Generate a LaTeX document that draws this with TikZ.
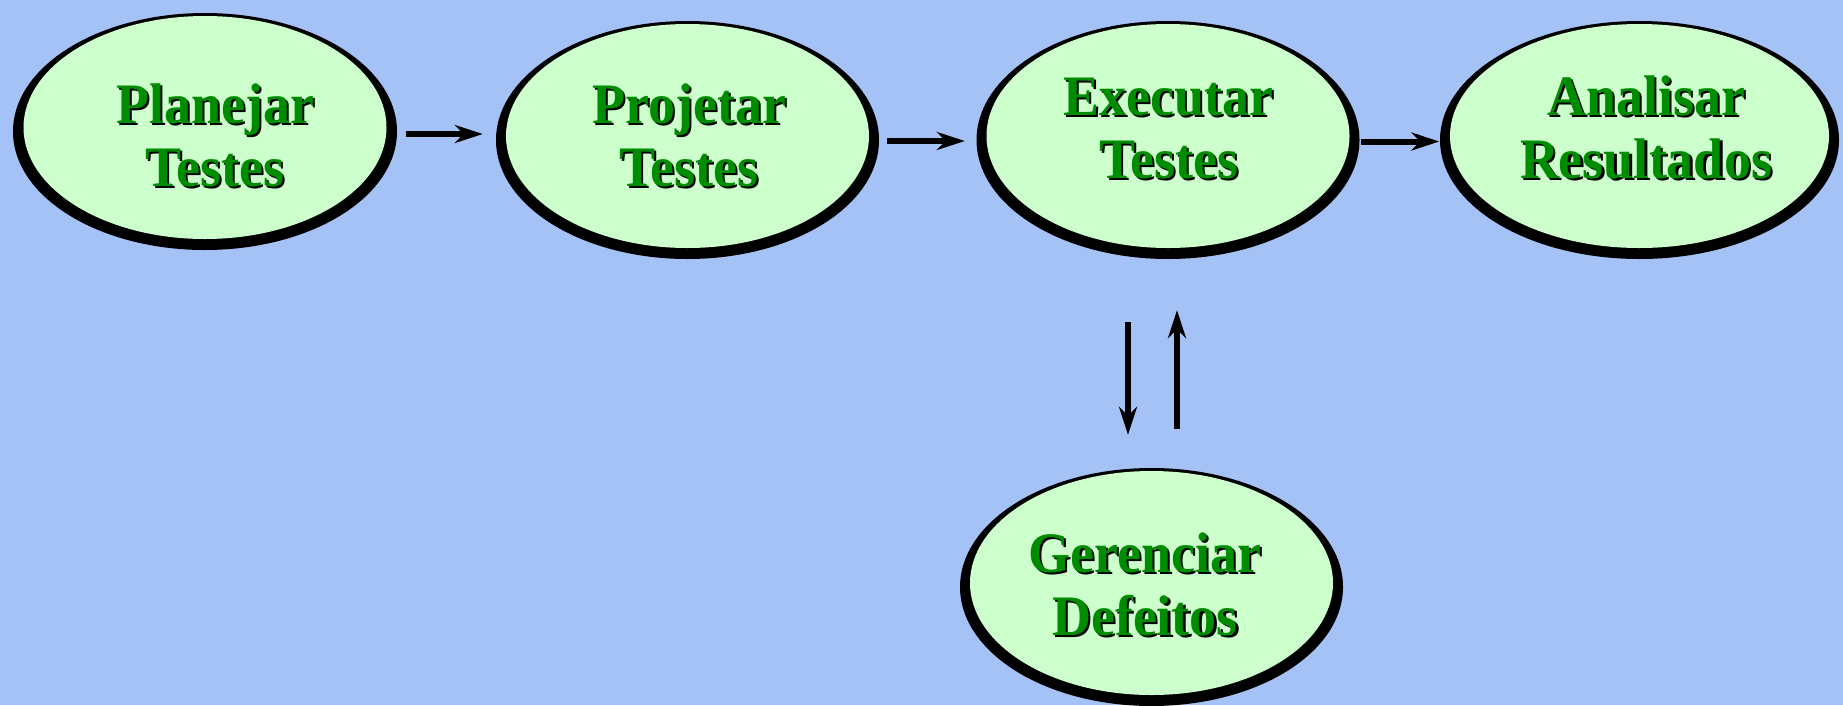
\documentclass[tikz,border=0pt]{standalone}
\usepackage{fontspec}
\usepackage{graphicx}
\setmainfont{Liberation Serif}
\usetikzlibrary{arrows.meta,shapes.geometric}
\definecolor{bgblue}{RGB}{164,194,246}
\definecolor{palegreen}{RGB}{204,255,204}
\definecolor{txtgreen}{RGB}{0,140,0}
\newcommand{\shw}[1]{\scalebox{1}[1.06]{\rlap{\kern2.2pt\raisebox{-2.2pt}{\color{black}#1}}#1}}
\newcommand{\twolines}[2]{\begin{tabular}[t]{@{}c@{}}\shw{#1}\\\shw{#2}\end{tabular}}
\tikzset{
  stage/.style={shape=ellipse, fill=palegreen, inner sep=0pt, minimum width=363pt, minimum height=224pt},
  shadowfill/.style={fill=black},
  lbl/.style={anchor=base, inner sep=0pt, text=txtgreen, font=\fontsize{54}{63}\selectfont\bfseries},
  arr/.style={line width=6pt, -{Stealth[length=28pt,width=18pt,inset=9pt]}}
}
\begin{document}
\begin{tikzpicture}[x=1pt,y=-1pt]
\fill[bgblue] (0,0) rectangle (1843,705);
\useasboundingbox (0,0) rectangle (1843,705);
% shadow ellipses
\fill[shadowfill] (205,131.5) ellipse [x radius=192pt, y radius=118.5pt];
\fill[shadowfill] (687.5,140) ellipse [x radius=191.5pt, y radius=119pt];
\fill[shadowfill] (1168,140) ellipse [x radius=191.5pt, y radius=119pt];
\fill[shadowfill] (1639.5,140) ellipse [x radius=199.5pt, y radius=119pt];
\fill[shadowfill] (1151.5,587) ellipse [x radius=191.5pt, y radius=119pt];
% stages
\node[stage, minimum height=223pt] (e1) at (205,127.5) {};
\node[stage] (e2) at (687.5,136) {};
\node[stage] (e3) at (1168,136) {};
\node[stage, minimum width=379pt] (e4) at (1639.5,136) {};
\node[stage] (e5) at (1151.5,583) {};
% labels
\node[lbl] (t1) at (215,123) {\twolines{Planejar}{Testes}};
\node[lbl] (t2) at (689,123) {\twolines{Projetar}{Testes}};
\node[lbl] (t3) at (1168.5,115) {\twolines{Executar}{Testes}};
\node[lbl] (t4) at (1646,115) {\twolines{Analisar}{Resultados}};
\node[lbl] (t5) at (1145,572) {\twolines{Gerenciar}{Defeitos}};
% connectors
\draw[arr, shorten <=19pt, shorten >=23pt] ([yshift=-6.5pt]e1.east) -- ([yshift=-6.5pt]e1.east -| e2.west);
\draw[arr, shorten <=18pt, shorten >=21.5pt] ([yshift=-5pt]e2.east) -- ([yshift=-5pt]e2.east -| e3.west);
\draw[arr, shorten <=11.5pt, shorten >=10.5pt] ([yshift=-5.5pt]e3.east) -- ([yshift=-5.5pt]e3.east -| e4.west);
\draw[arr, shorten <=74pt, shorten >=36pt] ([xshift=-40pt]e3.south) -- ([xshift=-40pt]e3.south |- e5.north);
\draw[arr, shorten <=42pt, shorten >=62pt] ([xshift=9pt]e3.south |- e5.north) -- ([xshift=9pt]e3.south);
\end{tikzpicture}
\end{document}
